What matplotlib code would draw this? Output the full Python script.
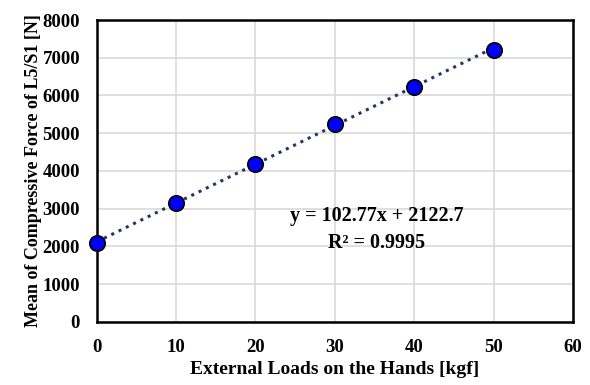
import matplotlib
matplotlib.use("Agg")
import matplotlib.pyplot as plt
import numpy as np

loads = [0, 10, 20, 30, 40, 50]
force = [2090, 3160, 4185, 5250, 6220, 7200]
slope = 102.77
intercept = 2122.7
eq_text = "y = 102.77x + 2122.7"
r2_text = "R² = 0.9995"

plt.rcParams['font.family'] = ['Liberation Serif', 'DejaVu Serif']
plt.rcParams['font.weight'] = 'bold'

fig = plt.figure(figsize=(5.9, 3.85), dpi=100)
ax = fig.add_axes([0.164, 0.164, 0.807, 0.784])

ax.set_xlim(0, 60)
ax.set_ylim(0, 8000)
ax.set_xticks(np.arange(0, 61, 10))
ax.set_yticks(np.arange(0, 8001, 1000))
ax.grid(True, color='#d9d9d9', lw=1.2)
ax.set_axisbelow(True)

xs = np.array([loads[0], loads[-1]])
ax.plot(xs, slope * xs + intercept, linestyle=':', color='#203864', lw=2.2, zorder=2)
ax.plot(loads, force, 'o', ms=11, mfc='#0000ff', mec='#000000', mew=1.3, zorder=3, clip_on=False)

for s in ax.spines.values():
    s.set_linewidth(1.8)
    s.set_color('black')
ax.tick_params(length=0, labelsize=13.5, pad=12)
for lab in ax.get_xticklabels() + ax.get_yticklabels():
    lab.set_fontweight('bold')

ax.set_xlabel("External Loads on the Hands [kgf]", fontsize=14, fontweight='bold', labelpad=4)
ax.set_ylabel("Mean of Compressive Force of L5/S1 [N]", fontsize=13, fontweight='bold', labelpad=0)

ax.text(35.3, 2810, eq_text, ha='center', va='center', fontsize=14.5, fontweight='bold')
ax.text(35.3, 2090, r2_text, ha='center', va='center', fontsize=14.5, fontweight='bold')

fig.savefig("out.png", dpi=100)
